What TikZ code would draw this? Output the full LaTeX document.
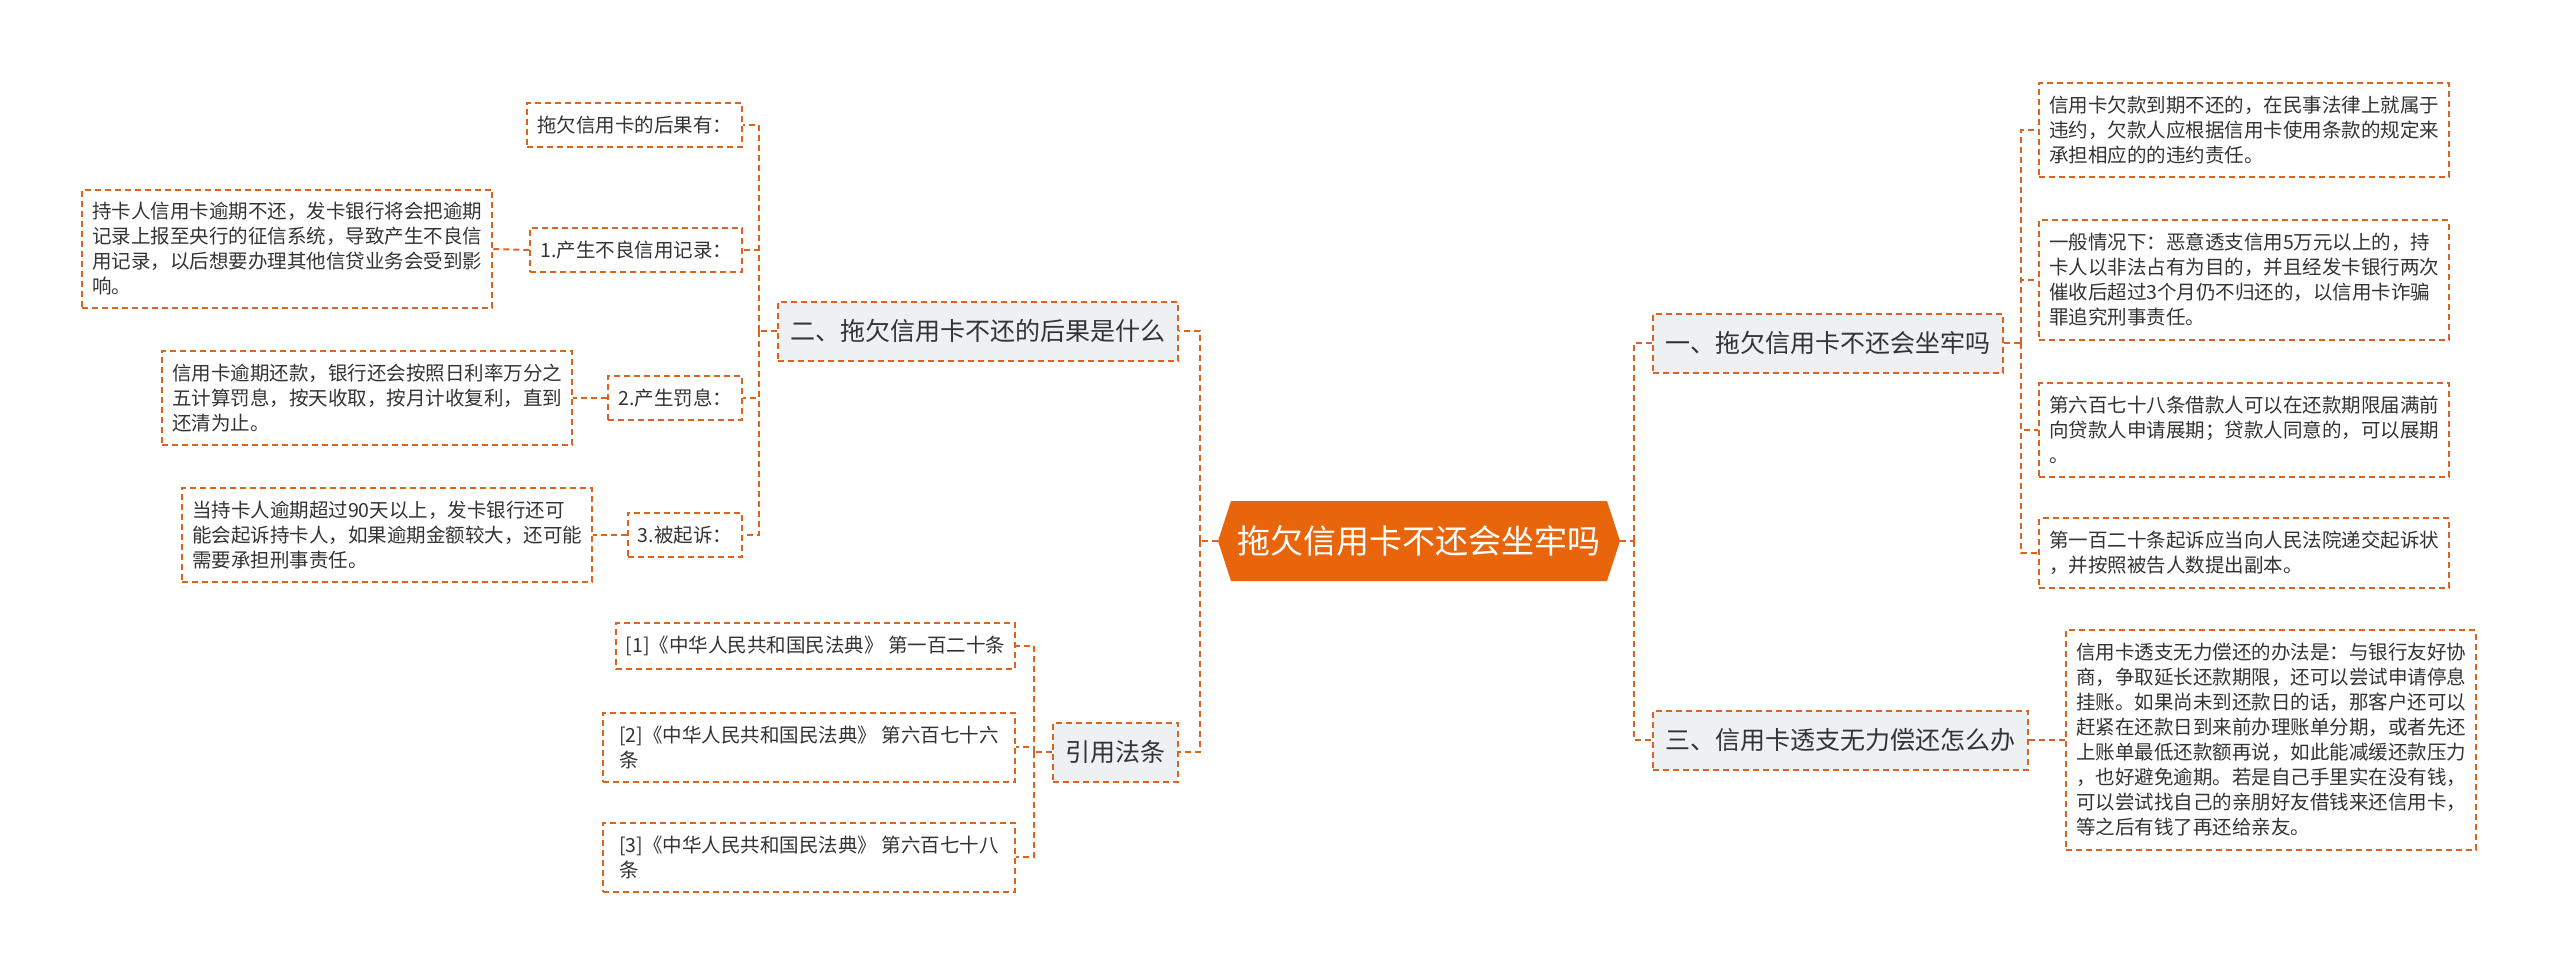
\documentclass[tikz,border=0pt]{standalone}
\usepackage{fontspec}
\setmainfont{Noto Sans CJK SC}
\usepackage{tikz}
\usetikzlibrary{shapes,shapes.symbols,positioning,calc}
\definecolor{lineor}{HTML}{DD6420}
\definecolor{rootor}{HTML}{E8650C}
\definecolor{brfill}{HTML}{EEF1F4}
\definecolor{txt}{HTML}{333333}

\begin{document}
\begin{tikzpicture}[x=0.5pt, y=-0.5pt, every node/.style={text=txt}]
  \tikzset{
    link/.style={draw=lineor, line width=1pt, dash pattern=on 3pt off 2pt},
    root/.style={signal, signal to=east and west, signal pointer angle=144, fill=rootor, text=white, minimum width=201pt, minimum height=40pt, inner xsep=0pt, font=\fontsize{16.5}{20}\selectfont},
    branch/.style={rectangle, link, fill=brfill, minimum height=29.5pt, inner xsep=6.25pt, font=\fontsize{12.5}{15}\selectfont},
    leaf/.style={rectangle, link, fill=white, align=left, inner xsep=5pt, inner ysep=6.5pt, font=\fontsize{9.75}{12.5}\selectfont}
  }
  \useasboundingbox (0,0) rectangle (2560,976);

  % root and branches
  \node[root] (root) at (1419,541) {拖欠信用卡不还会坐牢吗};
  \node[branch, anchor=east] (b2) at (1179,331) {二、拖欠信用卡不还的后果是什么};
  \node[branch, anchor=east] (b4) at (1179,752) {引用法条};
  \node[branch, anchor=west] (b1) at (1652,343) {一、拖欠信用卡不还会坐牢吗};
  \node[branch, anchor=west] (b3) at (1652,740) {三、信用卡透支无力偿还怎么办};

  % left: consequences
  \node[leaf, anchor=east] (c0) at (743,125) {拖欠信用卡的后果有：};
  \node[leaf, anchor=east] (c1) at (743,250) {1.产生不良信用记录：};
  \node[leaf, anchor=east] (c2) at (743,398) {2.产生罚息：};
  \node[leaf, anchor=east] (c3) at (743,535) {3.被起诉：};
  \node[leaf, anchor=east] (d1) at (493,249) {持卡人信用卡逾期不还，发卡银行将会把逾期\\记录上报至央行的征信系统，导致产生不良信\\用记录，以后想要办理其他信贷业务会受到影\\响。};
  \node[leaf, anchor=east] (d2) at (573,398) {信用卡逾期还款，银行还会按照日利率万分之\\五计算罚息，按天收取，按月计收复利，直到\\还清为止。};
  \node[leaf, anchor=east] (d3) at (593,535) {当持卡人逾期超过90天以上，发卡银行还可\\能会起诉持卡人，如果逾期金额较大，还可能\\需要承担刑事责任。};

  % left: laws
  \node[leaf, anchor=east] (r1) at (1016,646) {[1]《中华人民共和国民法典》 第一百二十条};
  \node[leaf, anchor=east, minimum width=206pt] (r2) at (1016,747) {[2]《中华人民共和国民法典》 第六百七十六\\条};
  \node[leaf, anchor=east, minimum width=206pt] (r3) at (1016,857) {[3]《中华人民共和国民法典》 第六百七十八\\条};

  % right
  \node[leaf, anchor=west] (e1) at (2038,130) {信用卡欠款到期不还的，在民事法律上就属于\\违约，欠款人应根据信用卡使用条款的规定来\\承担相应的的违约责任。};
  \node[leaf, anchor=west] (e2) at (2038,280) {一般情况下：恶意透支信用5万元以上的，持\\卡人以非法占有为目的，并且经发卡银行两次\\催收后超过3个月仍不归还的，以信用卡诈骗\\罪追究刑事责任。};
  \node[leaf, anchor=west] (e3) at (2038,430) {第六百七十八条借款人可以在还款期限届满前\\向贷款人申请展期；贷款人同意的，可以展期\\。};
  \node[leaf, anchor=west] (e4) at (2038,553) {第一百二十条起诉应当向人民法院递交起诉状\\，并按照被告人数提出副本。};
  \node[leaf, right=18pt of b3] (f1) {信用卡透支无力偿还的办法是：与银行友好协\\商，争取延长还款期限，还可以尝试申请停息\\挂账。如果尚未到还款日的话，那客户还可以\\赶紧在还款日到来前办理账单分期，或者先还\\上账单最低还款额再说，如此能减缓还款压力\\，也好避免逾期。若是自己手里实在没有钱，\\可以尝试找自己的亲朋好友借钱来还信用卡，\\等之后有钱了再还给亲友。};

  % junctions
  \coordinate (jl) at ([xshift=-9pt]root.west);
  \coordinate (jr) at ([xshift=7pt]root.east);
  \coordinate (j2) at ([xshift=-9pt]b2.west);
  \coordinate (j4) at ([xshift=-9pt]b4.west);
  \coordinate (j1) at ([xshift=8.5pt]b1.east);

  % links
  \draw[link] (root.west) -- (jl);
  \draw[link] (jl) |- (b2.east);
  \draw[link] (jl) |- (b4.east);
  \draw[link] (root.east) -- (jr);
  \draw[link] (jr) |- (b1.west);
  \draw[link] (jr) |- (b3.west);
  \draw[link] (b2.west) -- (j2);
  \foreach \n in {c0,c1,c2,c3} {
    \draw[link] (j2) |- (\n.east);
  }
  \draw[link] (c1.west) -- (d1.east);
  \draw[link] (c2.west) -- (d2.east);
  \draw[link] (c3.west) -- (d3.east);
  \draw[link] (b4.west) -- (j4);
  \foreach \n in {r1,r2,r3} {
    \draw[link] (j4) |- (\n.east);
  }
  \draw[link] (b1.east) -- (j1);
  \foreach \n in {e1,e2,e3,e4} {
    \draw[link] (j1) |- (\n.west);
  }
  \draw[link] (b3.east) -- (f1.west);
\end{tikzpicture}
\end{document}
